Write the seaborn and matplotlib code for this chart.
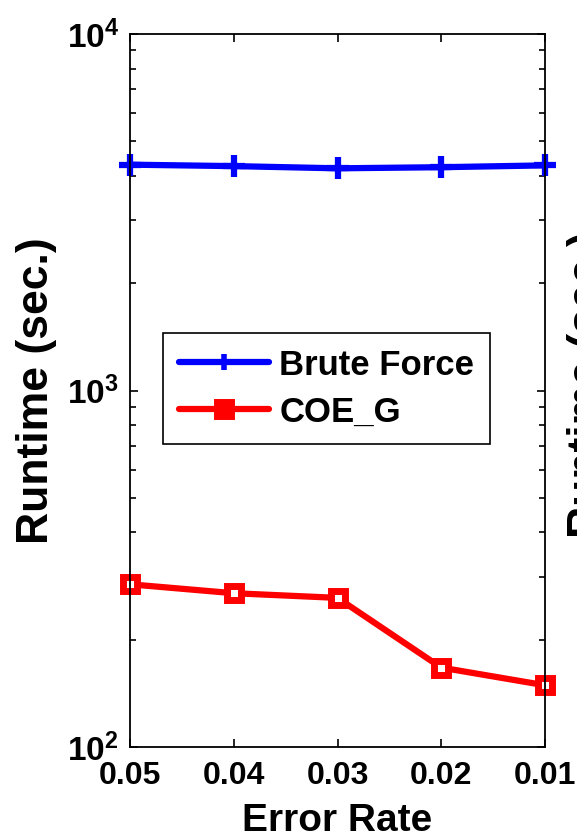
import numpy as np
import pandas as pd
import seaborn as sns
import matplotlib as mpl
import matplotlib.pyplot as plt
from matplotlib.ticker import FixedLocator, FixedFormatter, LogLocator, NullFormatter

sns.set_style('ticks')
plt.rcParams['font.family'] = ['Liberation Sans', 'DejaVu Sans']
plt.rcParams['font.weight'] = 'bold'
plt.rcParams['text.color'] = 'black'
plt.rcParams['axes.labelcolor'] = 'black'
plt.rcParams['xtick.color'] = 'black'
plt.rcParams['ytick.color'] = 'black'
plt.rcParams['mathtext.fontset'] = 'custom'
plt.rcParams['mathtext.rm'] = 'Liberation Sans:bold'
plt.rcParams['mathtext.it'] = 'Liberation Sans:bold'
plt.rcParams['mathtext.bf'] = 'Liberation Sans:bold'

error_rate = [0.05, 0.04, 0.03, 0.02, 0.01]
brute_force = [4300, 4260, 4200, 4230, 4280]
coe_g = [286, 270, 262, 167, 149]
xtick_labels = ['0.05', '0.04', '0.03', '0.02', '0.01']
ytick_vals = [100, 1000, 10000]
ytick_labels = [r'$10^{2}$', r'$10^{3}$', r'$10^{4}$']

df = pd.DataFrame({'Error Rate': error_rate, 'Brute Force': brute_force, 'COE_G': coe_g})

fig = plt.figure(figsize=(5.77, 8.38), dpi=100)
ax = fig.add_axes([130/577, 1-747/838, 415/577, 713/838])

sns.lineplot(data=df, x='Error Rate', y='Brute Force', ax=ax, color='#0000ff', lw=4.5,
             marker='+', markersize=16, mew=4.5, mec='#0000ff', label='Brute Force')
sns.lineplot(data=df, x='Error Rate', y='COE_G', ax=ax, color='#ff0000', lw=4.5,
             marker='s', markersize=10, mew=5, mec='#ff0000', mfc='white', label='COE_G')

ax.set_yscale('log')
ax.set_ylim(100, 10000)
ax.set_xlim(0.05, 0.01)
ax.xaxis.set_major_locator(FixedLocator(error_rate))
ax.xaxis.set_major_formatter(FixedFormatter(xtick_labels))
ax.yaxis.set_major_locator(FixedLocator(ytick_vals))
ax.yaxis.set_major_formatter(FixedFormatter(ytick_labels))
ax.yaxis.set_minor_locator(LogLocator(base=10, subs=np.arange(2, 10)))
ax.yaxis.set_minor_formatter(NullFormatter())

ax.tick_params(which='both', direction='in', top=True, right=True, width=1.2)
ax.tick_params(which='major', length=6)
ax.tick_params(which='minor', length=4)
ax.tick_params(axis='x', labelsize=23, pad=10)
ax.tick_params(axis='y', labelsize=24, pad=8)
for s in ax.spines.values():
    s.set_linewidth(1.3)
    s.set_color('black')
for ln in ax.get_lines():
    ln.set_clip_on(False)

ax.set_xlabel('Error Rate', fontsize=28, fontweight='bold', labelpad=9)
ax.set_ylabel('Runtime (sec.)', fontsize=32, fontweight='bold', labelpad=7)

leg = ax.legend(loc='upper left', bbox_to_anchor=(33/415, (747-333)/713), fontsize=25,
                frameon=True, fancybox=False, handlelength=2.6, borderpad=0.45,
                handletextpad=0.3, labelspacing=0.4, borderaxespad=0)
leg.get_frame().set_edgecolor('black')
leg.get_frame().set_linewidth(1.2)
leg.get_frame().set_alpha(1)
for t in leg.get_texts():
    t.set_fontweight('bold')
hs = leg.legend_handles
hs[0].set_markersize(12)
hs[0].set_markeredgewidth(4)
hs[1].set_markersize(10)
hs[1].set_markerfacecolor('#ff0000')

# neighbouring panel's label, cut off at the right edge
fig.text(567/577, 1-385/838, 'Runtime (sec.)', rotation=90, ha='left', va='center',
         fontsize=32, fontweight='bold')

fig.savefig('out.png', dpi=100)
